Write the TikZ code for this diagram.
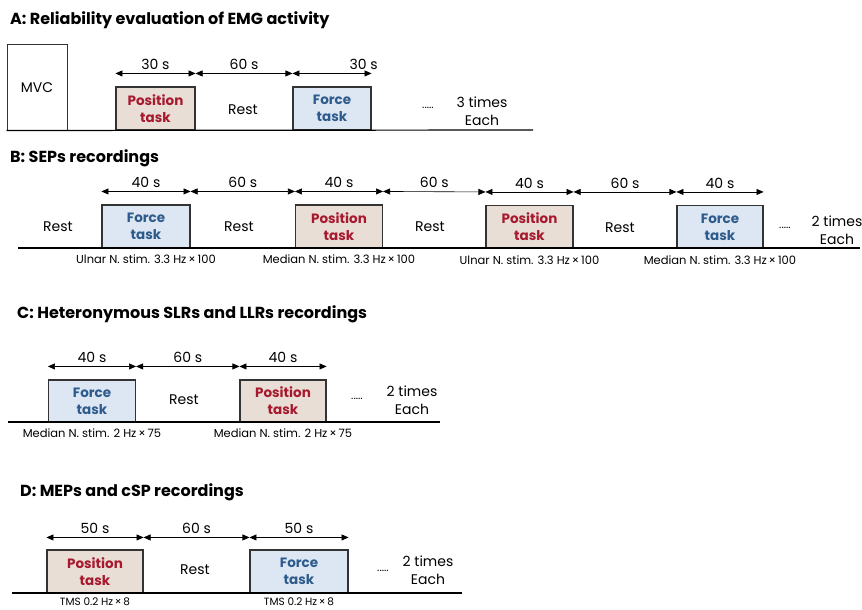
\documentclass[tikz,border=0pt]{standalone}
\usepackage{fontspec}
\setmainfont{Poppins}
\usetikzlibrary{arrows.meta}
\definecolor{posfill}{HTML}{E8DED5}
\definecolor{posred}{HTML}{A6192E}
\definecolor{forfill}{HTML}{DCE7F3}
\definecolor{forblue}{HTML}{2F5B8C}
\tikzset{
  taskbox/.style={draw=black!80, line width=1.1pt, align=center, inner sep=0pt, font=\fontsize{13.5}{17}\selectfont\bfseries},
  postask/.style={taskbox, fill=posfill, text=posred},
  fortask/.style={taskbox, fill=forfill, text=forblue},
  dimarrow/.style={{Triangle[length=7pt,width=6pt]}-{Triangle[length=7pt,width=6pt]}, line width=0.6pt},
  panel/.style={anchor=base west, inner sep=0pt, font=\fontsize{16}{18}\selectfont\bfseries},
  lbl/.style={font=\fontsize{14}{18}\selectfont},
  dots/.style={font=\fontsize{11}{12}\selectfont},
  stim/.style={anchor=north, inner sep=2pt, font=\fontsize{11.5}{12}\selectfont},
  timeline/.style={line width=1.2pt},
}
\begin{document}
\begin{tikzpicture}[x=1pt,y=-1pt]
\useasboundingbox (0,0) rectangle (862,610);

% A: reliability
\node[panel] (titleA) at (10,25) {A: Reliability evaluation of EMG activity};
\node[draw=black!80, line width=1pt, minimum width=60, minimum height=85, lbl] (mvc) at (37,87.5) {MVC};
\node[postask, minimum width=79, minimum height=43] (aPos) at (155.5,108.5) {Position\\task};
\node[fortask, minimum width=78, minimum height=43] (aFor) at (332,108.5) {Force\\task};
\node[lbl] (aRest) at (243,110) {Rest};
\node[dots] (aDots) at (428,108) {.....};
\node[lbl, align=center] (aRep) at (482,111) {3 times\\Each};
\coordinate (aEnd) at (533,130);
\draw[timeline] (mvc.south west) -- (aEnd);
\draw[dimarrow] ([yshift=13]aPos.north west) -- node[lbl, above] {30 s} ([yshift=13]aPos.north east);
\draw[dimarrow] ([yshift=13]aPos.north east) -- node[lbl, above] {60 s} ([yshift=13]aFor.north west);
\draw[dimarrow] ([yshift=13]aFor.north west) -- node[lbl, above, pos=0.9] {30 s} ([yshift=13]aFor.north east);

% B: SEPs
\node[panel] (titleB) at (10,162) {B: SEPs recordings};
\node[fortask, minimum width=88, minimum height=43] (bFor1) at (146,226.5) {Force\\task};
\node[postask, minimum width=87, minimum height=43] (bPos1) at (339,226.5) {Position\\task};
\node[postask, minimum width=87, minimum height=43] (bPos2) at (529.5,227) {Position\\task};
\node[fortask, minimum width=86, minimum height=43] (bFor2) at (720,227) {Force\\task};
\node[lbl] (bRest0) at (58,227) {Rest};
\node[lbl] (bRest1) at (239,227) {Rest};
\node[lbl] (bRest2) at (430,227) {Rest};
\node[lbl] (bRest3) at (620,228) {Rest};
\node[dots] (bDots) at (785,228) {.....};
\node[lbl, align=center] (bRep) at (837,230) {2 times\\Each};
\coordinate (bStart) at (18,248);
\coordinate (bEnd) at (860,248);
\draw[timeline] (bStart) -- (bEnd);
\draw[dimarrow] ([yshift=13]bFor1.north west) -- node[lbl, above] {40 s} ([yshift=13]bFor1.north east);
\draw[dimarrow] ([yshift=13]bFor1.north east) -- node[lbl, above] {60 s} ([yshift=13]bPos1.north west);
\draw[dimarrow] ([yshift=13]bPos1.north west) -- node[lbl, above] {40 s} ([yshift=13]bPos1.north east);
\draw[dimarrow] ([yshift=13]bPos1.north east) -- node[lbl, above] {60 s} ([yshift=13]bPos2.north west);
\draw[dimarrow] ([yshift=13]bPos2.north west) -- node[lbl, above] {40 s} ([yshift=13]bPos2.north east);
\draw[dimarrow] ([yshift=13]bPos2.north east) -- node[lbl, above] {60 s} ([yshift=13]bFor2.north west);
\draw[dimarrow] ([yshift=13]bFor2.north west) -- node[lbl, above] {40 s} ([yshift=13]bFor2.north east);
\node[stim] (bStim1) at ([yshift=-4]bFor1.south) {Ulnar N. stim. 3.3 Hz\,×\,100};
\node[stim] (bStim2) at ([yshift=-4]bPos1.south) {Median N. stim. 3.3 Hz\,×\,100};
\node[stim] (bStim3) at ([yshift=-4]bPos2.south) {Ulnar N. stim. 3.3 Hz\,×\,100};
\node[stim] (bStim4) at ([yshift=-4]bFor2.south) {Median N. stim. 3.3 Hz\,×\,100};

% C: SLRs and LLRs
\node[panel] (titleC) at (17,318) {C: Heteronymous SLRs and LLRs recordings};
\node[fortask, minimum width=87, minimum height=42] (cFor) at (92,401) {Force\\task};
\node[postask, minimum width=86, minimum height=42] (cPos) at (283,401) {Position\\task};
\node[lbl] (cRest) at (184,400) {Rest};
\node[dots] (cDots) at (357,399) {.....};
\node[lbl, align=center] (cRep) at (412,400) {2 times\\Each};
\coordinate (cStart) at (8,422);
\coordinate (cEnd) at (440,422);
\draw[timeline] (cStart) -- (cEnd);
\draw[dimarrow] ([yshift=13]cFor.north west) -- node[lbl, above] {40 s} ([yshift=13]cFor.north east);
\draw[dimarrow] ([yshift=13]cFor.north east) -- node[lbl, above] {60 s} ([yshift=13]cPos.north west);
\draw[dimarrow] ([yshift=13]cPos.north west) -- node[lbl, above] {40 s} ([yshift=13]cPos.north east);
\node[stim] (cStim1) at ([yshift=-4]cFor.south) {Median N. stim. 2 Hz\,×\,75};
\node[stim] (cStim2) at ([yshift=-4]cPos.south) {Median N. stim. 2 Hz\,×\,75};

% D: MEPs and cSP
\node[panel] (titleD) at (20,496) {D: MEPs and cSP recordings};
\node[postask, minimum width=96, minimum height=43] (dPos) at (95,571.5) {Position\\task};
\node[fortask, minimum width=98, minimum height=43] (dFor) at (299,571.5) {Force\\task};
\node[lbl] (dRest) at (195,570) {Rest};
\node[dots] (dDots) at (383,571) {.....};
\node[lbl, align=center] (dRep) at (428,570) {2 times\\Each};
\coordinate (dStart) at (12,593);
\coordinate (dEnd) at (462,593);
\draw[timeline] (dStart) -- (dEnd);
\draw[dimarrow] ([yshift=12]dPos.north west) -- node[lbl, above] {50 s} ([yshift=12]dPos.north east);
\draw[dimarrow] ([yshift=12]dPos.north east) -- node[lbl, above] {60 s} ([yshift=12]dFor.north west);
\draw[dimarrow] ([yshift=12]dFor.north west) -- node[lbl, above] {50 s} ([yshift=12]dFor.north east);
\node[stim, font=\fontsize{10.5}{11}\selectfont, inner sep=0.5pt] (dStim1) at ([yshift=-3.5]dPos.south) {TMS 0.2 Hz\,×\,8};
\node[stim, font=\fontsize{10.5}{11}\selectfont, inner sep=0.5pt] (dStim2) at ([yshift=-3.5]dFor.south) {TMS 0.2 Hz\,×\,8};
\end{tikzpicture}
\end{document}
